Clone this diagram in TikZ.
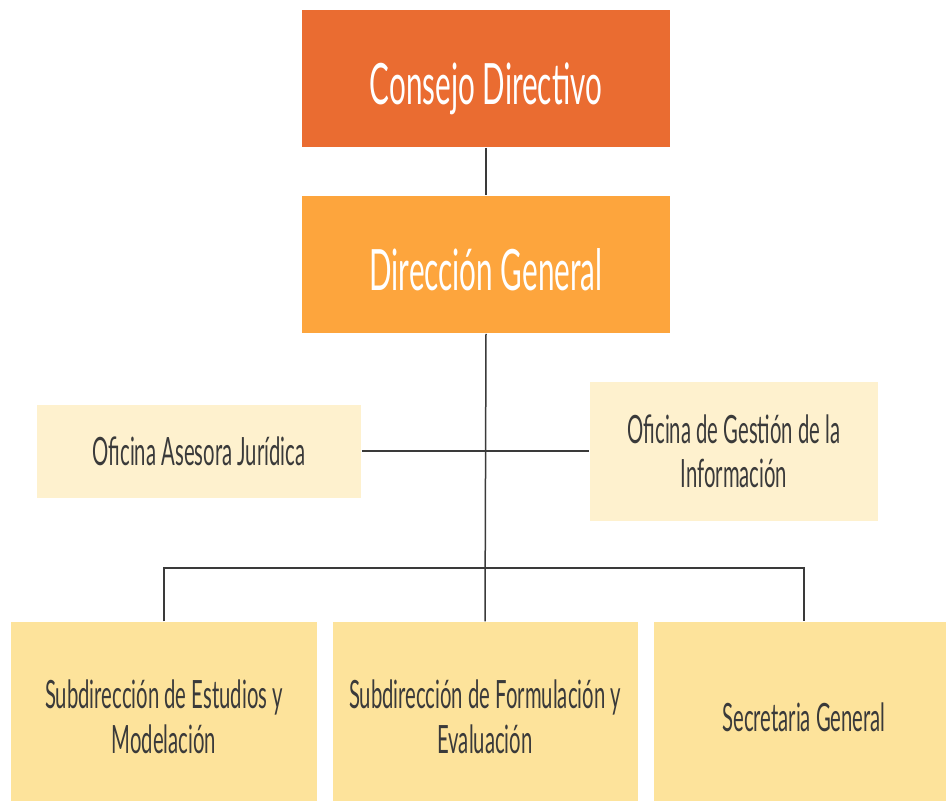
\documentclass[tikz,border=0pt]{standalone}
\usepackage{fontspec}
\setmainfont{Lato}[FakeStretch=0.52]
\usetikzlibrary{positioning}
\definecolor{consejo}{HTML}{EA6C31}
\definecolor{direccion}{HTML}{FDA53D}
\definecolor{oficina}{HTML}{FEF1CE}
\definecolor{subdir}{HTML}{FDE39B}
\definecolor{linea}{HTML}{3A3A3A}
\begin{document}
\begin{tikzpicture}[x=1pt, y=-1pt, line width=1.5pt, draw=linea,
  top/.style={fill=#1, text=white, minimum width=368pt, minimum height=137pt,
    inner sep=0pt, text height=52pt, text depth=0pt,
    font=\fontsize{57}{64}\selectfont},
  staff/.style={fill=oficina, text=linea, inner sep=0pt, align=center,
    font=\fontsize{39}{44}\selectfont},
  unit/.style={fill=subdir, text=linea, inner sep=0pt, align=center,
    minimum height=190pt, font=\fontsize{39}{45}\selectfont}]

\useasboundingbox (0,0) rectangle (946,801);

\node [top=consejo] at (486, 78.5) (CD) {Consejo Directivo};
\node [top=direccion] at (486, 264.5) (DG) {Dirección General};

\node [staff, minimum width=324pt, minimum height=93pt] at (199, 451) (OAJ) {Oficina Asesora Jurídica};
\node [staff, minimum width=288pt, minimum height=139pt] at (734, 451) (OGI) {Oficina de Gestión de la\\Información};

\node [unit, minimum width=306pt] at (164, 717) (SEM) {Subdirección de Estudios y\\Modelación};
\node [unit, minimum width=305pt] at (485, 717) (SFE) {Subdirección de Formulación y\\Evaluación};
\node [unit, minimum width=300pt] at (804, 717) (SG) {Secretaria General};

\coordinate (bus) at (485, 568);
\draw (CD) -- (DG);
\draw (DG.south) -- (SFE.north);
\draw (OAJ.east) -- (OGI.west);
\draw (SEM.north) |- (bus) -| (SG.north);
\end{tikzpicture}
\end{document}
